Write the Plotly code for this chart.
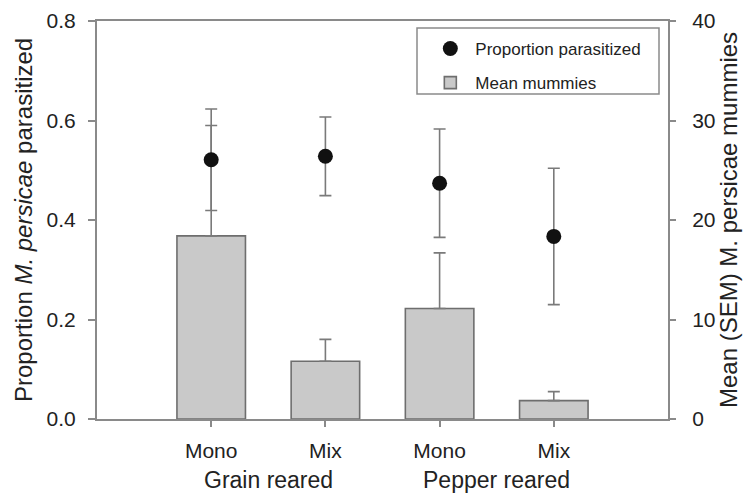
import plotly.graph_objects as go

# ---- data ----
categories = [0, 1, 2, 3]
tick_labels = ["Mono", "Mix", "Mono", "Mix"]
group_labels = ["Grain reared", "Pepper reared"]
group_pos = [0.5, 2.5]

prop_parasitized = [0.521, 0.528, 0.474, 0.367]
prop_err = [0.102, 0.079, 0.109, 0.137]

mean_mummies = [18.4, 5.8, 11.1, 1.85]
mummies_sem = [11.1, 2.2, 5.6, 0.9]

FONT = "Liberation Sans, Arial, sans-serif"
AXIS_COL = "#8a8a8a"
TXT = "#222222"

fig = go.Figure()

fig.add_trace(go.Bar(
    x=categories, y=mean_mummies, width=0.6,
    name="Mean mummies",
    marker=dict(color="#c9c9c9", line=dict(color="#6e6e6e", width=1.6)),
    error_y=dict(type="data", array=mummies_sem, arrayminus=[0] * len(mummies_sem),
                 symmetric=False, color="#7a7a7a", thickness=1.6, width=6),
    yaxis="y", legendgroup="b", legendrank=2,
))

fig.add_trace(go.Scatter(
    x=categories, y=prop_parasitized, mode="markers",
    name="Proportion parasitized",
    marker=dict(color="#111111", size=15, symbol="circle"),
    error_y=dict(type="data", array=prop_err, color="#7a7a7a", thickness=1.6, width=6),
    yaxis="y2", legendgroup="a", legendrank=1,
))

fig.update_layout(
    width=744, height=495,
    margin=dict(l=97, r=76, t=21, b=76, autoexpand=False),
    paper_bgcolor="white", plot_bgcolor="white",
    font=dict(family=FONT, color=TXT, size=21),
    showlegend=True,
    bargap=0.4,
    xaxis=dict(
        range=[-1, 4], tickmode="array", tickvals=categories, ticktext=tick_labels,
        showline=True, linecolor=AXIS_COL, linewidth=2, mirror=True,
        ticks="outside", ticklen=6, tickwidth=1.5, tickcolor=AXIS_COL,
        showgrid=False, zeroline=False, ticklabelstandoff=6,
        tickfont=dict(size=21, color=TXT, family=FONT),
    ),
    yaxis=dict(
        range=[0, 40], tickvals=[0, 10, 20, 30, 40], side="right",
        showline=True, linecolor=AXIS_COL, linewidth=2,
        ticks="outside", ticklen=6, tickwidth=1.5, tickcolor=AXIS_COL,
        showgrid=False, zeroline=False, ticklabelstandoff=12,
        tickfont=dict(size=21, color=TXT, family=FONT),
    ),
    yaxis2=dict(
        range=[0, 0.8], tickvals=[0, 0.2, 0.4, 0.6, 0.8], tickformat=".1f",
        overlaying="y", side="left",
        showline=True, linecolor=AXIS_COL, linewidth=2,
        ticks="outside", ticklen=7, tickwidth=1.5, tickcolor=AXIS_COL,
        showgrid=False, zeroline=False, ticklabelstandoff=8,
        tickfont=dict(size=21, color=TXT, family=FONT),
    ),
    legend=dict(
        x=0.575, y=0.975, xanchor="left", yanchor="top",
        bgcolor="rgba(0,0,0,0)", borderwidth=0,
        font=dict(size=17, color=TXT, family=FONT),
        traceorder="grouped", tracegroupgap=9,
        itemwidth=40,
    ),
    shapes=[dict(type="rect", xref="paper", yref="paper",
                 x0=(417 - 97) / 571, x1=(659 - 97) / 571,
                 y0=(419 - 94) / 398, y1=(419 - 28) / 398,
                 line=dict(color=AXIS_COL, width=1.5), fillcolor="rgba(0,0,0,0)")],
)

annotations = []
for lbl, pos in zip(group_labels, group_pos):
    annotations.append(dict(text=lbl, x=pos, xref="x", y=-0.153, yref="paper",
                            showarrow=False, xanchor="center", yanchor="middle",
                            font=dict(size=23, color=TXT, family=FONT)))
annotations.append(dict(text="Proportion <i>M. persicae</i> parasitized",
                        x=(23 - 97) / 571, xref="paper", y=0.5, yref="paper",
                        textangle=-90, showarrow=False, xanchor="center", yanchor="middle",
                        font=dict(size=24, color=TXT, family=FONT)))
annotations.append(dict(text="Mean (SEM) M. persicae mummies",
                        x=(728 - 97) / 571, xref="paper", y=0.5, yref="paper",
                        textangle=-90, showarrow=False, xanchor="center", yanchor="middle",
                        font=dict(size=24, color=TXT, family=FONT)))
fig.update_layout(annotations=annotations)

fig.write_html("out.html", post_script="document.body.style.margin='0';",
               config={"displayModeBar": False})
